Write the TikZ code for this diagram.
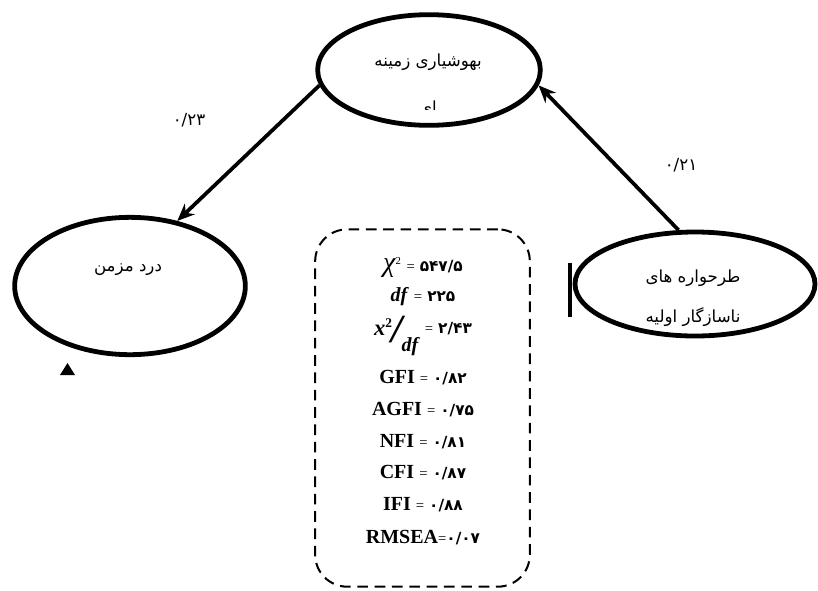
\documentclass[tikz,border=0pt]{standalone}
\usepackage{fontspec}
\setmainfont{Liberation Serif}
\newfontfamily\persian[Script=Arabic]{DejaVu Sans}
\TeXXeTstate=1
\usetikzlibrary{shapes.geometric,arrows.meta,positioning}
\newcommand{\fanum}[1]{{\persian\bfseries\fontsize{11.5}{13}\selectfont #1}}
\newcommand{\eqsign}{{\mdseries\fontsize{11}{13}\selectfont =}}

\begin{document}
\begin{tikzpicture}[
    x=0.75pt, y=-0.75pt,
    latent/.style={ellipse, draw, line width=3.6pt, inner sep=0pt},
    fatext/.style={font=\persian\fontsize{12.5}{14}\selectfont, align=center},
    path/.style={-{Stealth[length=13pt,width=11pt]}, line width=2.8pt},
    fitbox/.style={draw, dash pattern=on 8pt off 5pt, line width=1.5pt, rounded corners=24pt, minimum width=161pt, minimum height=268pt},
    fitline/.style={font=\bfseries\fontsize{15}{17}\selectfont, inner sep=1pt}
]
\useasboundingbox (0,0) rectangle (818,590);

% Latent variables
\node[latent, minimum width=167pt, minimum height=83pt] (mind) at (429,70) {};
\node[latent, minimum width=173pt, minimum height=103pt] (pain) at (130,286) {};
\node[latent, minimum width=180pt, minimum height=78pt] (schema) at (695,284) {};

% Labels
\node[fatext] (mindtxt) at (428,62) {\beginR بهوشیاری زمینه\endR};
\begin{scope}
  \clip (400,95) rectangle (460,109);
  \node[fatext] (mindtxt2) at (428,108) {\beginR ای\endR};
\end{scope}
\node[fatext] (paintxt) at (128,270) {\beginR درد مزمن\endR};
\node[fatext] (schematxt) at (693,278) {\beginR طرحواره های\endR};
\node[fatext] (schematxt2) at (693,317) {\beginR ناسازگار اولیه\endR};

% Paths
\draw[path] (mind.188) -- (pain.54);
\draw[path] (schema.107) -- (mind.352);
\node[fatext] (coefa) at (189,120) {۰/۲۳};
\node[fatext] (coefb) at (681,165) {۰/۲۱};

% Marks
\draw[line width=3.6pt] ([xshift=-2pt,yshift=16pt]schema.west) -- ([xshift=-2pt,yshift=-25pt]schema.west);
\fill (60,375) -- (75,375) -- (67.5,363) -- cycle;

% Fit indices
\node[fitbox] (indices) at (422.5,408) {};
\node[fitline, font=\mdseries\fontsize{15}{17}\selectfont] (chi) at (423,267) {{\itshape\fontsize{21}{21}\selectfont χ}\textsuperscript{\fontsize{8}{8}\selectfont 2} \eqsign{} \fanum{۵۴۷/۵}};
\node[fitline] (df) at (423,297) {\textit{df} \eqsign{} \fanum{۲۲۵}};
\node[fitline] (ratio) at (423,336) {\raisebox{5pt}{\fontsize{17}{17}\selectfont\textit{x}\textsuperscript{\fontsize{10}{10}\selectfont 2}}\hspace{-1pt}{\fontsize{30}{30}\selectfont\textit{/}}\hspace{-3pt}\raisebox{-7pt}{\textit{df}}\ \raisebox{7pt}{\eqsign{} \fanum{۲/۴۳}}};
\foreach \lab/\val/\ypos in {GFI/۸۲/378, AGFI/۷۵/410, NFI/۸۱/442, CFI/۸۷/473, IFI/۸۸/505}
  \node[fitline] (\lab) at (423,\ypos) {\lab{} \eqsign{} \fanum{۰/\val}};
\node[fitline] (rmsea) at (423,538) {RMSEA\eqsign\fanum{۰/۰۷}};

\end{tikzpicture}
\end{document}
